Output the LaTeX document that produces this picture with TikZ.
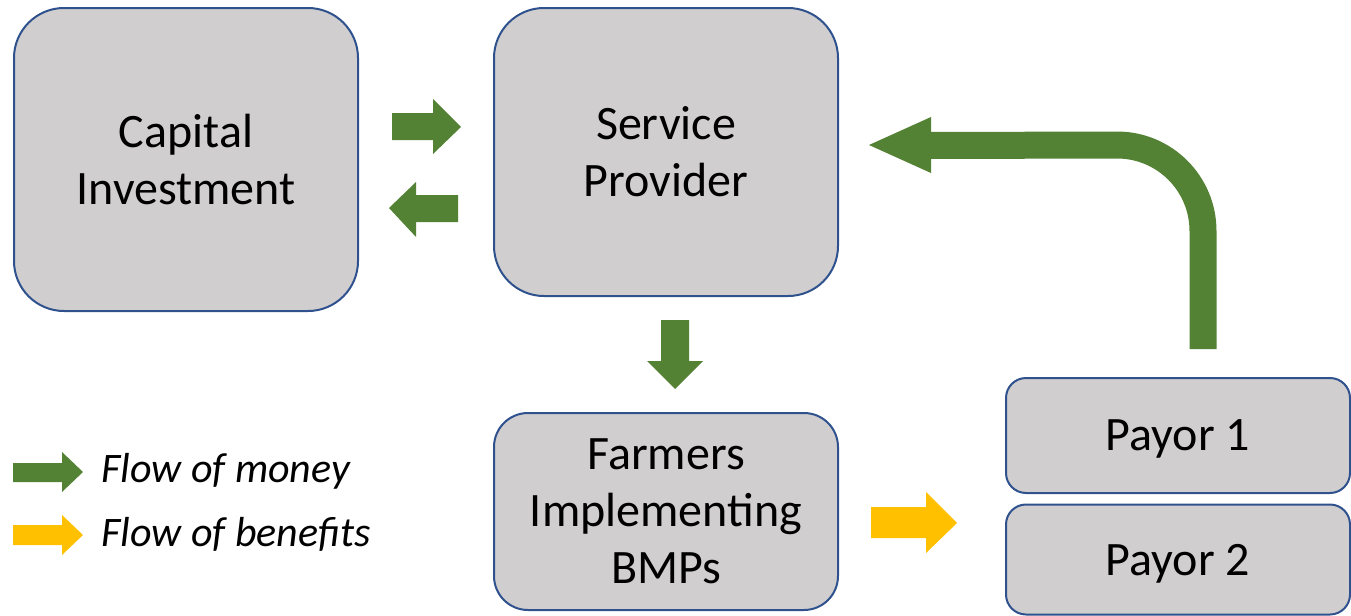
\documentclass[tikz,border=0pt]{standalone}
\usepackage{fontspec}
\setmainfont{Carlito}
\definecolor{boxfill}{HTML}{D0CECE}
\definecolor{boxline}{HTML}{2F528F}
\definecolor{money}{HTML}{548235}
\definecolor{benefit}{HTML}{FFC000}
\begin{document}
\begin{tikzpicture}[x=0.5pt,y=-0.5pt,
  box/.style={draw=boxline,fill=boxfill,line width=1pt,align=center,
    font=\fontsize{24}{28.5}\selectfont,inner sep=0pt},
  legendtext/.style={anchor=west,font=\fontsize{21}{24}\selectfont\itshape,inner sep=0pt}]
\useasboundingbox (0,0) rectangle (1351,616);
% boxes
\node[box,rounded corners=25pt,minimum width=172pt,minimum height=151.5pt] (cap) at (186,159.5) {Capital\\Investment};
\node[box,rounded corners=25pt,minimum width=172pt,minimum height=144pt] (sp) at (666,152) {Service\\Provider};
\node[box,rounded corners=17pt,minimum width=172pt,minimum height=98.5pt] (farm) at (666,511.5) {Farmers\\Implementing\\BMPs};
\node[box,rounded corners=10pt,minimum width=172pt,minimum height=57.5pt] (p1) at (1178,435.5) {};
\node[box,rounded corners=10pt,minimum width=172pt,minimum height=55pt] (p2) at (1178,559.5) {};
\node[font=\fontsize{24}{28.5}\selectfont,inner sep=0pt] (p1t) at (1178,439) {Payor 1};
\node[font=\fontsize{24}{28.5}\selectfont,inner sep=0pt] (p2t) at (1178,564) {Payor 2};
% block arrows
\fill[money] (392,113) -- (433,113) -- (433,99) -- (461,127) -- (433,154) -- (433,140) -- (392,140) -- cycle;
\fill[money] (458,195) -- (416,195) -- (416,182) -- (389,208) -- (416,237) -- (416,222) -- (458,222) -- cycle;
\fill[money] (661,320) -- (689,320) -- (689,361) -- (703,361) -- (675,389) -- (647,361) -- (661,361) -- cycle;
\fill[benefit] (871,507) -- (926,507) -- (926,492) -- (957,523) -- (926,553) -- (926,538) -- (871,538) -- cycle;
% curved arrow
\draw[money,line width=13.5pt] (1203,349) -- (1203,231) arc[start angle=0,end angle=90,x radius=86,y radius=-86] -- (930,145.5);
\fill[money] (931,117) -- (869,145) -- (931,173) -- cycle;
% legend
\fill[money] (13,463) -- (62,463) -- (62,452) -- (83,472) -- (62,492) -- (62,482) -- (13,482) -- cycle;
\fill[benefit] (13,525) -- (62,525) -- (62,515) -- (83,535) -- (62,555) -- (62,545) -- (13,545) -- cycle;
\node[legendtext] (l1) at (101,471) {Flow of money};
\node[legendtext] (l2) at (101,534) {Flow of benefits};
\end{tikzpicture}
\end{document}
